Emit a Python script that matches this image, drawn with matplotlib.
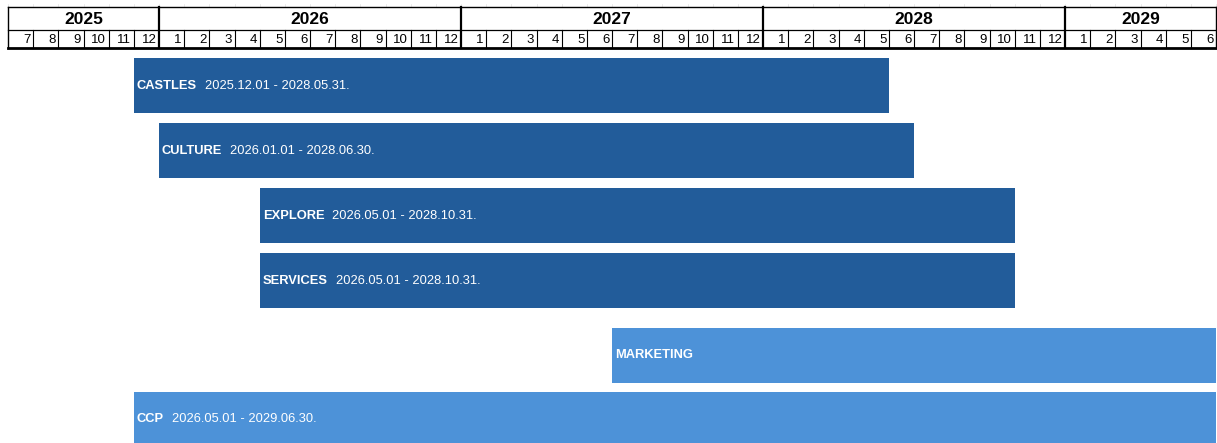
import matplotlib
matplotlib.use("Agg")
import matplotlib.pyplot as plt
from matplotlib import font_manager

# ---------------- data ----------------
years = [2025, 2026, 2027, 2028, 2029]
first_month = (2025, 7)   # timeline start
last_month = (2029, 6)    # timeline end (inclusive)

task_names = ["CASTLES", "CULTURE", "EXPLORE", "SERVICES", "MARKETING", "CCP"]
task_dates = ["2025.12.01 - 2028.05.31.", "2026.01.01 - 2028.06.30.",
              "2026.05.01 - 2028.10.31.", "2026.05.01 - 2028.10.31.",
              "", "2026.05.01 - 2029.06.30."]
# bar start / end months as drawn (inclusive)
task_start = [(2025, 12), (2026, 1), (2026, 5), (2026, 5), (2027, 7), (2025, 12)]
task_end = [(2028, 5), (2028, 6), (2028, 10), (2028, 10), (2029, 6), (2029, 6)]
task_group = ["dark", "dark", "dark", "dark", "light", "light"]

# ---------------- style ----------------
colors = {"dark": "#225C9A", "light": "#4D92D8"}
avail = {f.name for f in font_manager.fontManager.ttflist}
fam = ["Liberation Sans Narrow", "Liberation Sans", "DejaVu Sans"]
fam = [f for f in fam if f in avail] or ["DejaVu Sans"]
plt.rcParams["font.family"] = fam

W, H = 1217, 443
x0_px, x1_px = 8, 1216


def midx(ym):
    return (ym[0] - first_month[0]) * 12 + (ym[1] - first_month[1])


n_months = midx(last_month) + 1
mw = (x1_px - x0_px) / n_months

fig = plt.figure(figsize=(W / 100, H / 100), dpi=100)
ax = fig.add_axes([0, 0, 1, 1])
ax.set_xlim(-x0_px / mw, (W - x0_px) / mw)
ax.set_ylim(H, 0)
ax.axis("off")

# ---------------- header ----------------
y_top, y_mid, y_bot = 7, 30, 48
# faint ticks above header
for m in range(n_months + 1):
    ax.plot([m, m], [4, y_top], color="#e2e2e2", lw=0.5)
ax.plot([0, n_months], [y_top, y_top], color="black", lw=1.0)
ax.plot([0, n_months], [y_mid, y_mid], color="black", lw=0.9)
ax.plot([0, n_months], [y_bot, y_bot], color="black", lw=2.0)
ax.plot([0, 0], [y_top, y_bot], color="black", lw=1.0)
ax.plot([n_months, n_months], [y_top, y_bot], color="black", lw=1.0)

for m in range(n_months):
    mon = (first_month[1] - 1 + m) % 12 + 1
    if mon == 1 and m > 0:
        ax.plot([m, m], [y_top, y_bot], color="black", lw=1.6)
    elif m > 0:
        ax.plot([m, m], [y_mid, y_bot], color="black", lw=0.8)
    ax.text(m + 1 - 0.1, (y_mid + y_bot) / 2 + 0.8, str(mon), ha="right",
            va="center", fontsize=9.5, color="black")

for yr in years:
    s = max(midx((yr, 1)), 0)
    e = min(midx((yr, 12)) + 1, n_months)
    ax.text((s + e) / 2, (y_top + y_mid) / 2 + 0.8, str(yr), ha="center",
            va="center", fontsize=12.5, fontweight="bold", color="black")

# ---------------- bars ----------------
row_top = [58, 123, 188, 253, 328, 392]
bar_h = 55
for name, dates, s, e, g, top in zip(task_names, task_dates, task_start,
                                     task_end, task_group, row_top):
    left = midx(s)
    right = midx(e) + 1
    yc = top + bar_h / 2
    ax.barh(yc, right - left, left=left, height=bar_h, color=colors[g],
            edgecolor="none")
    t = ax.text(left + 3 / mw, yc, name, ha="left", va="center",
                fontsize=9.3, fontweight="bold", color="white")
    if dates:
        fig.canvas.draw()
        bb = t.get_window_extent()
        xd = ax.transData.inverted().transform((bb.x1 + 8, 0))[0]
        ax.text(xd, yc, dates, ha="left", va="center", fontsize=9.3,
                color="white")

fig.savefig("out.png", dpi=100)
